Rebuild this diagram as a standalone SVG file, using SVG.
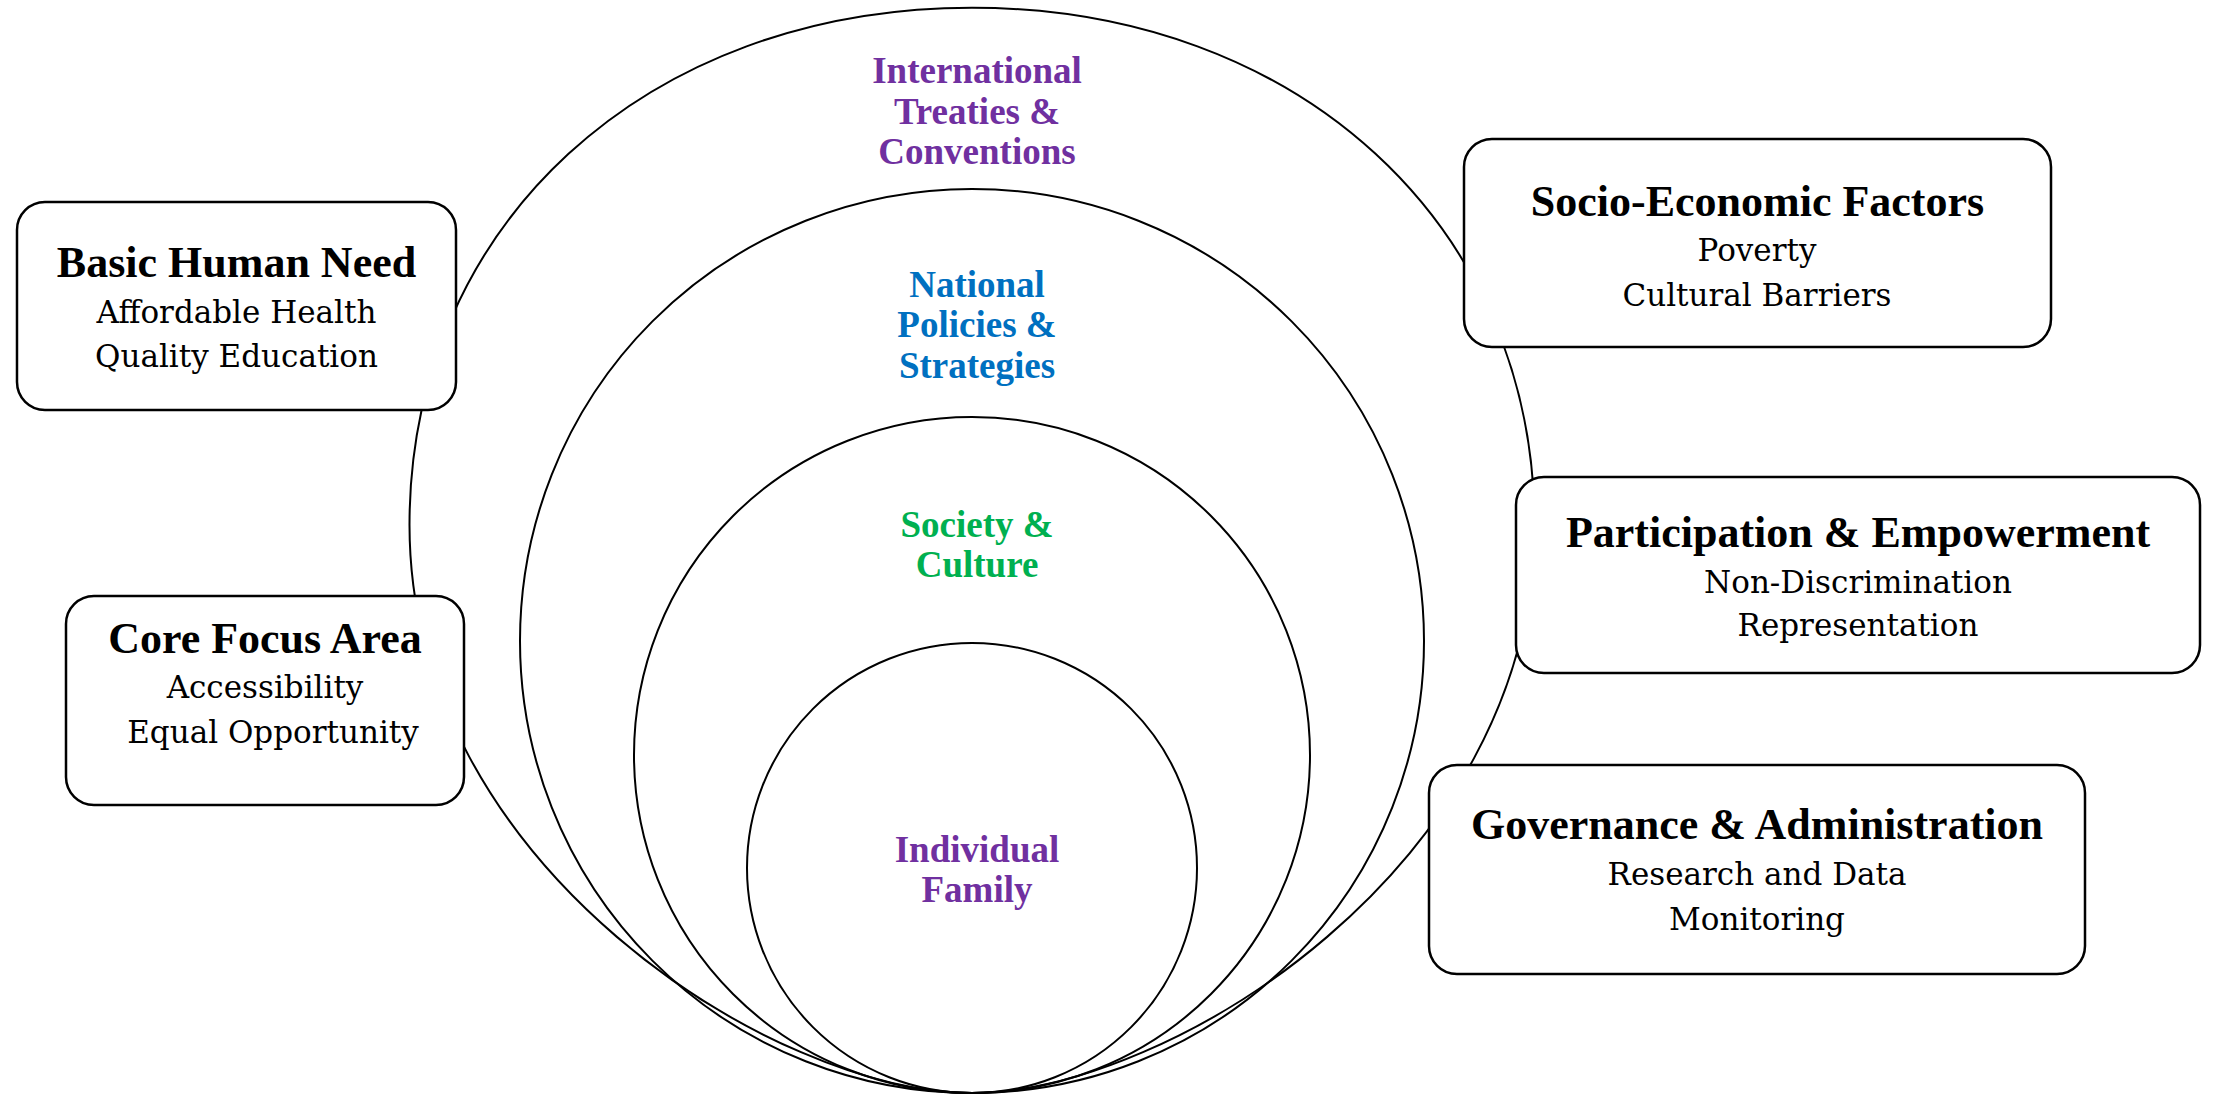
<svg xmlns="http://www.w3.org/2000/svg" width="2218" height="1095" viewBox="0 0 2218 1095">
<style>
.ring{fill:none;stroke:#000;stroke-width:2}
.box{fill:#fff;stroke:#000;stroke-width:2.5}
.ttl{font-family:"Liberation Serif","Times New Roman",serif;font-weight:bold;font-size:44px;fill:#000;text-anchor:middle}
.sub{font-family:"DejaVu Serif","Liberation Serif",serif;font-size:31px;fill:#000;text-anchor:middle}
.lbl{font-family:"Liberation Serif","Times New Roman",serif;font-weight:bold;font-size:37px;text-anchor:middle}
.purple{fill:#7030A0}
.blue{fill:#0070C0}
.green{fill:#00B050}
</style>
<rect width="2218" height="1095" fill="#fff"/>
<g id="rings">
  <g id="ring-international">
    <path class="ring" d="M 972 7.7 C 646 7.7 409.5 225 409.5 525 C 409.5 866 775 1093 972 1093 C 1169 1093 1534.5 866 1534.5 525 C 1534.5 225 1298 7.7 972 7.7 Z"/>
    <text class="lbl purple" x="977" y="83">International</text>
    <text class="lbl purple" x="977" y="123.5">Treaties &amp;</text>
    <text class="lbl purple" x="977" y="164">Conventions</text>
  </g>
  <g id="ring-national">
    <circle class="ring" cx="972" cy="641" r="452"/>
    <text class="lbl blue" x="977" y="296.5">National</text>
    <text class="lbl blue" x="977" y="337">Policies &amp;</text>
    <text class="lbl blue" x="977" y="377.5">Strategies</text>
  </g>
  <g id="ring-society">
    <circle class="ring" cx="972" cy="755" r="338"/>
    <text class="lbl green" x="977" y="536.5">Society &amp;</text>
    <text class="lbl green" x="977" y="577">Culture</text>
  </g>
  <g id="ring-individual">
    <circle class="ring" cx="972" cy="868" r="225"/>
    <text class="lbl purple" x="977" y="861.5">Individual</text>
    <text class="lbl purple" x="977" y="902">Family</text>
  </g>
</g>
<g id="connectors"></g>
<g id="basic-human-need">
  <rect class="box" x="17" y="202" width="439" height="208" rx="28"/>
  <text class="ttl" x="236.5" y="277">Basic Human Need</text>
  <text class="sub" x="236.5" y="322.5">Affordable Health</text>
  <text class="sub" x="236.5" y="367">Quality Education</text>
</g>
<g id="core-focus-area">
  <rect class="box" x="66" y="596" width="398" height="209" rx="28"/>
  <text class="ttl" x="265" y="653">Core Focus Area</text>
  <text class="sub" x="265" y="698">Accessibility</text>
  <text class="sub" x="273" y="743">Equal Opportunity</text>
</g>
<g id="socio-economic-factors">
  <rect class="box" x="1464" y="139" width="587" height="208" rx="28"/>
  <text class="ttl" x="1757.5" y="216">Socio-Economic Factors</text>
  <text class="sub" x="1757" y="261">Poverty</text>
  <text class="sub" x="1757" y="306">Cultural Barriers</text>
</g>
<g id="participation-empowerment">
  <rect class="box" x="1516" y="477" width="684" height="196" rx="28"/>
  <text class="ttl" x="1858" y="546.5">Participation &amp; Empowerment</text>
  <text class="sub" x="1858" y="592.5">Non-Discrimination</text>
  <text class="sub" x="1858" y="636">Representation</text>
</g>
<g id="governance-administration">
  <rect class="box" x="1429" y="765" width="656" height="209" rx="28"/>
  <text class="ttl" x="1757" y="839">Governance &amp; Administration</text>
  <text class="sub" x="1757" y="885">Research and Data</text>
  <text class="sub" x="1757" y="930">Monitoring</text>
</g>
</svg>
